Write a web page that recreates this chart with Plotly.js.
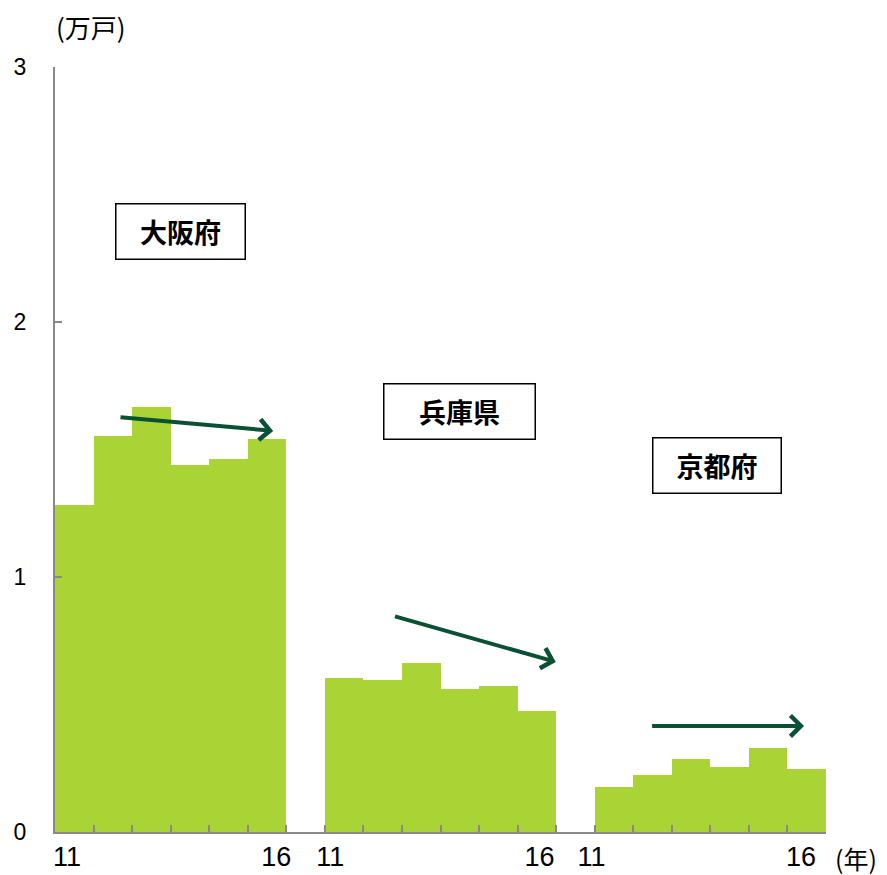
<!DOCTYPE html>
<html>
<head>
<meta charset="utf-8">
<script src="https://cdn.plot.ly/plotly-3.0.1.min.js"></script>
<style>html,body{margin:0;padding:0;background:#fff;}#chart{width:887px;height:875px;}</style>
</head>
<body>
<div id="chart"></div>
<script>
// Data
const prefectures = ["大阪府", "兵庫県", "京都府"];
const years = [11, 12, 13, 14, 15, 16];
const osaka = [1.282, 1.554, 1.665, 1.438, 1.462, 1.540];
const hyogo = [0.605, 0.598, 0.661, 0.561, 0.574, 0.473];
const kyoto = [0.175, 0.222, 0.285, 0.254, 0.331, 0.246];
const yTicks = [0, 1, 2, 3];
const xTickLabels = ["11", "16", "11", "16", "11", "16"];

const series = [osaka, hyogo, kyoto];
const slotsPerGroup = years.length + 1;
const xs = [], ys = [];
series.forEach((vals, g) => {
  vals.forEach((v, i) => { xs.push(g * slotsPerGroup + i + 0.5); ys.push(v); });
});
const totalSlots = series.length * slotsPerGroup - 1;

const font = "Liberation Sans, Arial, Noto Sans CJK JP, sans-serif";
const cjk = "Noto Sans CJK JP, sans-serif";

const traces = [{
  type: "bar", x: xs, y: ys, width: 1,
  marker: {color: "#aad436", line: {width: 0}},
  hoverinfo: "skip", showlegend: false
}, {
  type: "scatter", x: [0], y: [0], xaxis: "x2", mode: "markers",
  marker: {opacity: 0}, hoverinfo: "skip", showlegend: false
}];

// label positions for x tick texts
const labelPos = [0.31, 5.74, 7.14, 12.57, 13.92, 19.35];

const boxPos = [[3.25, 2.353, 130], [10.49, 1.651, 152], [17.17, 1.439, 129]];
const arrows = [
  [1.66, 1.627, 5.66, 1.573],
  [8.78, 0.847, 12.99, 0.667],
  [15.45, 0.416, 19.43, 0.416]
];

const annotations = [];
prefectures.forEach((p, i) => {
  annotations.push({
    text: "<b>" + p + "</b>", x: boxPos[i][0], y: boxPos[i][1], xref: "x", yref: "y",
    showarrow: false, font: {family: cjk, size: 27, color: "#000"},
    bordercolor: "#000", borderwidth: 1.5, bgcolor: "#fff",
    width: boxPos[i][2] - 4, height: 52, align: "center", valign: "middle"
  });
});
arrows.forEach(a => {
  annotations.push({
    text: "", x: a[2], y: a[3], ax: a[0], ay: a[1], xref: "x", yref: "y", axref: "x", ayref: "y",
    showarrow: true, arrowhead: 4, arrowsize: 1, arrowwidth: 4, arrowcolor: "#0a5134", standoff: 0
  });
});
annotations.push({
  text: "(万戸)", xref: "paper", yref: "paper", x: (91 - 55) / 771, y: 1 + (67 - 27) / 765,
  showarrow: false, font: {family: cjk, size: 26, color: "#000"}, xanchor: "center", yanchor: "middle"
});
annotations.push({
  text: "(年)", xref: "paper", yref: "paper", x: (856 - 55) / 771, y: -(858 - 832) / 765,
  showarrow: false, font: {family: cjk, size: 25, color: "#000"}, xanchor: "center", yanchor: "middle"
});

const layout = {
  width: 887, height: 875,
  margin: {l: 55, r: 61, t: 67, b: 43},
  paper_bgcolor: "#fff", plot_bgcolor: "#fff",
  bargap: 0,
  showlegend: false,
  xaxis: {
    range: [0, totalSlots], tickmode: "array",
    tickvals: Array.from({length: totalSlots + 1}, (_, i) => i),
    showticklabels: false, ticks: "inside", ticklen: 7, tickwidth: 2, tickcolor: "#898989",
    showline: true, linecolor: "#898989", linewidth: 2, showgrid: false, zeroline: false, fixedrange: true
  },
  xaxis2: {
    overlaying: "x", anchor: "y", side: "bottom", range: [0, totalSlots],
    tickmode: "array", tickvals: labelPos, ticktext: xTickLabels, ticks: "",
    showline: false, showgrid: false, zeroline: false, ticklabelstandoff: 6,
    tickfont: {family: font, size: 27, color: "#000"}
  },
  yaxis: {
    range: [0, 3], tickmode: "array", tickvals: yTicks, ticktext: yTicks.map(String),
    ticks: "inside", ticklen: 7, tickwidth: 2, tickcolor: "#898989",
    showline: true, linecolor: "#898989", linewidth: 2, showgrid: false, zeroline: false,
    ticklabelstandoff: 22, tickfont: {family: font, size: 23, color: "#000"}
  },
  annotations: annotations
};

Plotly.newPlot("chart", traces, layout, {displayModeBar: false, staticPlot: true});
</script>
</body>
</html>
